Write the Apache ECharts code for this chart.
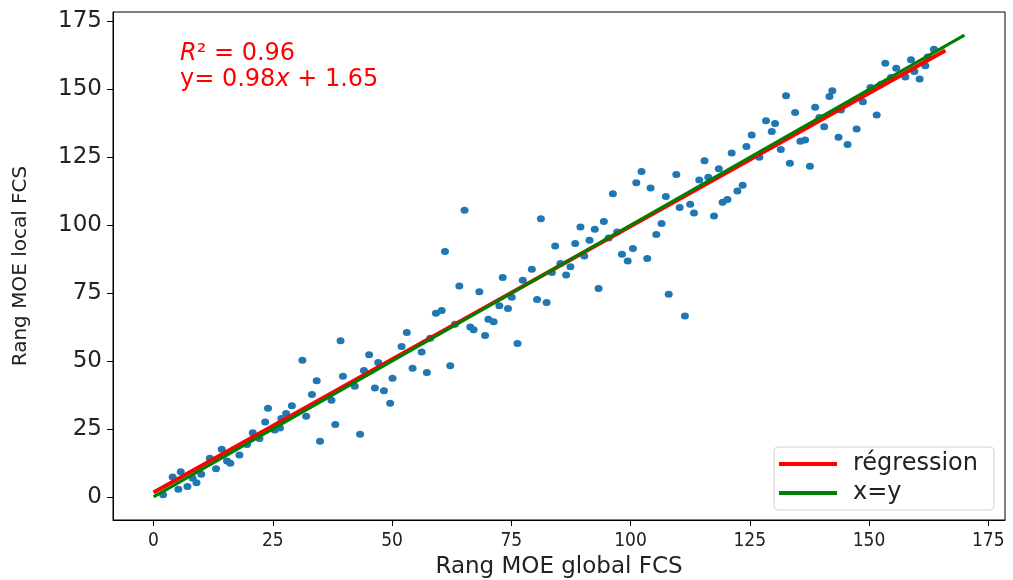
<!DOCTYPE html>
<html><head><meta charset="utf-8">
<script src="https://cdn.jsdelivr.net/npm/echarts@6/dist/echarts.min.js"></script>
<style>html,body{margin:0;padding:0;background:#fff}#c{width:1013px;height:580px}</style>
</head><body><div id="c"></div>
<script>
const xs = [2.0,4.0,5.7,5.2,7.1,8.2,9.0,10.0,11.8,13.1,14.3,15.4,16.1,18.0,19.6,20.8,22.2,23.4,24.0,25.4,26.5,26.8,27.8,29.0,32.0,33.2,34.2,34.9,37.3,38.1,39.7,31.2,
39.2,42.2,44.1,45.2,46.4,47.1,48.3,49.6,43.3,50.1,52.0,53.1,54.3,56.2,57.3,58.0,59.2,60.4,61.1,62.2,63.2,64.1,65.2,66.4,67.1,68.3,69.5,70.2,71.3,72.5,73.2,74.3,76.3,
75.1,77.4,79.3,80.4,81.2,82.4,83.5,84.2,85.3,86.5,87.4,88.4,89.5,90.3,91.4,92.5,93.3,94.4,95.4,96.3,97.2,98.2,99.4,100.5,101.2,102.3,103.5,104.2,105.4,106.5,107.4,108.0,
109.6,110.3,111.4,112.5,113.3,114.4,115.5,116.3,117.5,118.5,119.3,120.3,121.2,122.4,123.5,124.3,125.4,127.0,128.4,129.6,130.3,131.5,133.4,134.5,135.6,136.6,137.6,138.7,139.6,140.6,
132.6,141.7,142.3,143.6,145.5,144.1,147.4,148.7,150.3,151.6,152.5,153.4,154.6,155.7,157.6,158.8,159.5,160.6,161.8,162.3,163.6];
const ys = [0.8,7.3,9.3,2.8,3.8,6.9,5.2,8.3,14.2,10.4,17.5,13.2,12.4,15.4,19.3,23.6,21.5,27.6,32.6,24.6,25.4,28.9,30.7,33.6,29.7,37.7,42.8,20.5,35.6,26.7,44.4,50.3,
57.5,40.7,46.5,52.3,40.1,49.5,39.1,34.5,23.1,43.7,55.4,60.5,47.4,53.3,45.8,58.4,67.6,68.6,90.3,48.3,63.6,77.6,105.5,62.5,61.5,75.5,59.4,65.4,64.5,70.4,80.8,69.4,56.5,
73.5,79.8,83.8,72.7,102.4,71.6,82.6,92.4,85.9,81.7,84.7,93.3,99.4,88.7,94.5,98.5,76.7,101.4,95.3,111.6,97.5,89.3,86.8,91.4,115.6,119.8,87.8,113.7,96.6,100.6,110.6,74.6,
118.7,106.5,66.6,107.7,104.5,116.7,123.7,117.7,103.4,120.8,108.5,109.5,126.6,112.6,114.7,129.0,133.2,125.0,138.5,134.5,137.5,127.9,122.8,141.5,130.9,131.4,121.7,143.4,139.7,136.3,
147.7,147.4,149.5,132.4,129.7,142.4,135.4,145.5,150.7,140.6,151.9,159.6,154.4,157.8,154.6,160.9,156.6,153.8,158.7,161.9,164.8];
const tickValues = [0,25,50,75,100,125,150,175];
const slope = 0.98, intercept = 1.65;
const regX = [0, 166];
const idX = [0, 170];
const seriesNames = ['régression', 'x=y'];

const points = xs.map((x, i) => [x, ys[i]]);
const regLine = regX.map(x => [x, slope * x + intercept]);
const idLine = idX.map(x => [x, x]);

const txt = '#222';
const chart = echarts.init(document.getElementById('c'));
chart.setOption({
  animation: false,
  backgroundColor: '#fff',
  grid: { left: 113, right: 8, top: 12, bottom: 60, containLabel: false, outerBoundsMode: 'none', show: true, borderColor: '#000', borderWidth: 1, backgroundColor: 'transparent' },
  xAxis: {
    type: 'value', min: -8.5, max: 178.5,
    name: 'Rang MOE global FCS', nameLocation: 'middle', nameGap: 36,
    nameTextStyle: { fontFamily: 'DejaVu Sans', fontSize: 23, color: txt },
    axisLine: { show: true, onZero: false, lineStyle: { color: '#000', width: 1 } },
    axisTick: { show: true, length: 6, lineStyle: { color: '#000' }, customValues: tickValues },
    axisLabel: { customValues: tickValues, color: txt, fontFamily: 'DejaVu Sans Condensed', fontSize: 19, margin: 12 },
    splitLine: { show: false }
  },
  yAxis: {
    type: 'value', min: -8.5, max: 178.5,
    name: 'Rang MOE local FCS', nameLocation: 'middle', nameGap: 82, nameRotate: 90,
    nameTextStyle: { fontFamily: 'DejaVu Sans', fontSize: 20, color: txt },
    axisLine: { show: true, onZero: false, lineStyle: { color: '#000', width: 1 } },
    axisTick: { show: true, length: 6, lineStyle: { color: '#000' }, customValues: tickValues },
    axisLabel: { customValues: tickValues, color: txt, fontFamily: 'DejaVu Sans', fontSize: 23, margin: 11 },
    splitLine: { show: false }
  },
  legend: {
    data: seriesNames,
    orient: 'vertical', left: 774, top: 447,
    backgroundColor: '#fff', borderColor: '#d0d0d0', borderWidth: 1, borderRadius: 4,
    padding: [5, 16, 5, 5], itemGap: 5,
    icon: 'rect', itemWidth: 58, itemHeight: 4,
    textStyle: { fontFamily: 'DejaVu Sans', fontSize: 24, color: txt, padding: [0, 0, 0, 11] }
  },
  graphic: [
    { type: 'text', left: 180, top: 42, style: { text: '{i|R}{n|² = 0.96}', rich: {
      i: { fontFamily: 'DejaVu Sans', fontStyle: 'italic', fontSize: 24, fill: '#ff0000' },
      n: { fontFamily: 'DejaVu Sans', fontSize: 24, fill: '#ff0000' } } } },
    { type: 'text', left: 180, top: 68, style: { text: '{n|y= 0.98}{i|x}{n| + 1.65}', rich: {
      i: { fontFamily: 'DejaVu Sans', fontStyle: 'italic', fontSize: 24, fill: '#ff0000' },
      n: { fontFamily: 'DejaVu Sans', fontSize: 24, fill: '#ff0000' } } } }
  ],
  series: [
    { type: 'scatter', name: 'points', data: points, symbolSize: [8, 7], itemStyle: { color: '#1f77b4', opacity: 1 }, z: 1 },
    { type: 'line', name: seriesNames[0], data: regLine, showSymbol: false, symbol: 'none', lineStyle: { color: '#ff0000', width: 4 }, itemStyle: { color: '#ff0000' }, z: 2 },
    { type: 'line', name: seriesNames[1], data: idLine, showSymbol: false, symbol: 'none', lineStyle: { color: '#008000', width: 3 }, itemStyle: { color: '#008000' }, z: 3 }
  ]
});
</script></body></html>
